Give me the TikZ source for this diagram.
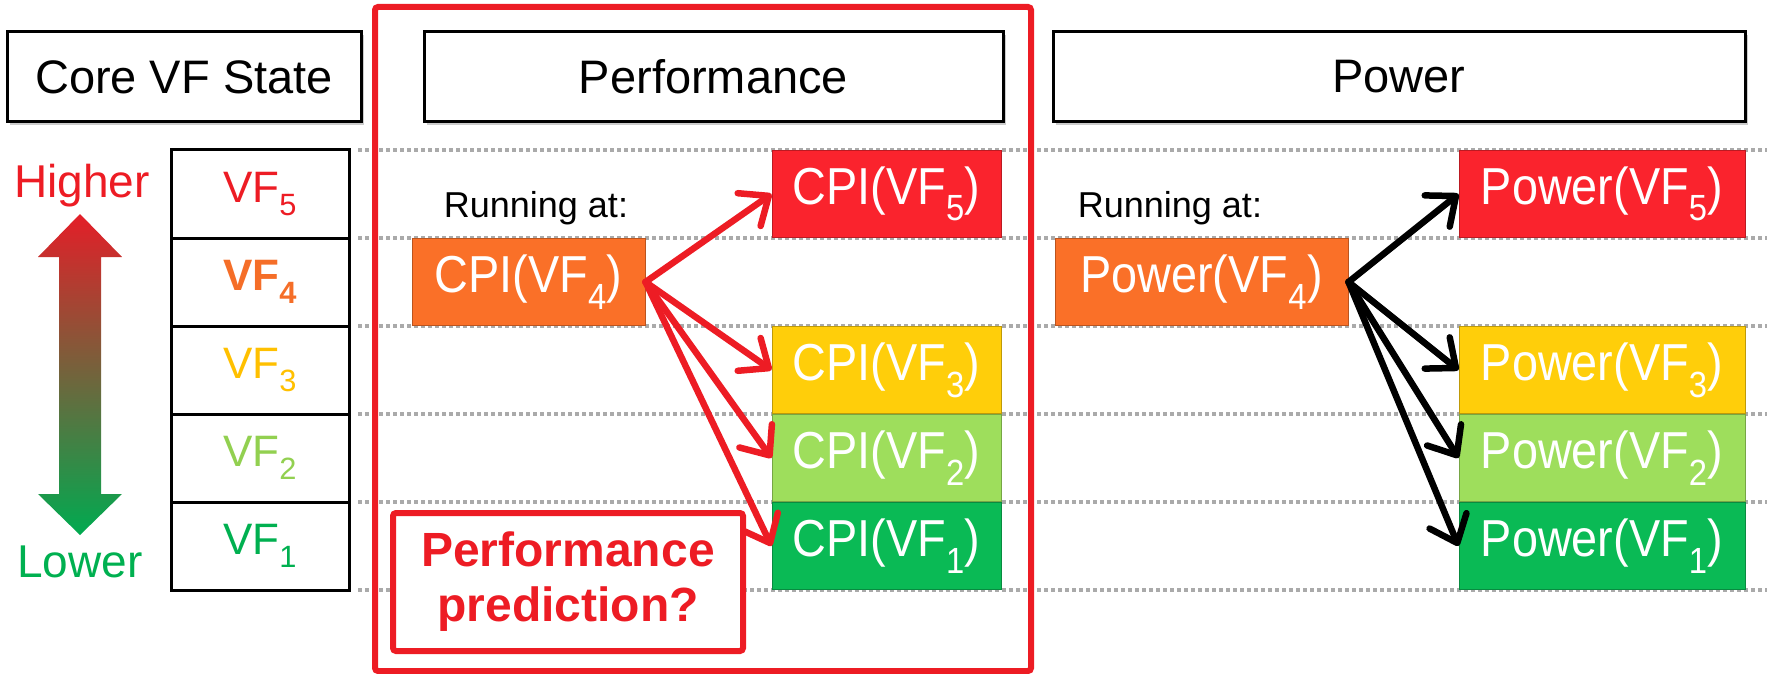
\documentclass[tikz,border=0pt]{standalone}
\usepackage{fontspec}
\setmainfont{Liberation Sans}
\newfontfamily\boxfont[FakeStretch=0.9]{Liberation Sans}
\usetikzlibrary{arrows.meta, positioning, shadows}

\definecolor{vfred}{RGB}{237,28,36}
\definecolor{vforange}{RGB}{245,110,40}
\definecolor{vfyellow}{RGB}{255,192,0}
\definecolor{vflime}{RGB}{146,208,80}
\definecolor{vfgreen}{RGB}{0,176,80}
\definecolor{fillred}{RGB}{250,35,45}
\definecolor{fillorange}{RGB}{250,112,40}
\definecolor{fillyellow}{RGB}{255,206,10}
\definecolor{filllime}{RGB}{158,222,92}
\definecolor{fillgreen}{RGB}{10,186,85}
\definecolor{gridgray}{RGB}{170,170,170}
\definecolor{arrowtop}{RGB}{228,30,40}
\definecolor{arrowbottom}{RGB}{0,170,80}

\newcommand{\vfsub}[1]{VF\textsubscript{#1}}

\begin{document}
\begin{tikzpicture}[x=1pt, y=-1pt,
    titlebox/.style={draw, line width=3pt, fill=white, minimum height=90pt, inner sep=0pt,
      drop shadow={shadow xshift=3pt, shadow yshift=-3pt, fill=black, opacity=0.2},
      font=\fontsize{47}{56}\selectfont},
    vfcell/.style={draw, line width=3pt, fill=white, minimum width=178pt, minimum height=88pt, inner sep=0pt, font=\fontsize{44}{52}\selectfont},
    statebox/.style={draw=#1!75!black, line width=1pt, fill=#1, text=white, minimum height=87pt, inner sep=0pt, font=\boxfont\fontsize{52}{60}\selectfont},
    cpibox/.style={statebox=#1, minimum width=229pt},
    powbox/.style={statebox=#1, minimum width=286pt},
    runlabel/.style={font=\fontsize{36}{42}\selectfont},
    gridline/.style={draw=gridgray, line width=3.5pt, dash pattern=on 3.5pt off 3.5pt},
    cpiarrow/.style={draw=vfred, line width=6.5pt, line cap=round, -{Straight Barb[round, length=24pt, width=40pt]}},
    powarrow/.style={cpiarrow, draw=black}
  ]
  \useasboundingbox (0,0) rectangle (1767,674);

  % dotted row lines
  \foreach \yy in {150,238,326,414,502,590}
    \draw[gridline] (358,\yy) -- (1767,\yy);

  % headers
  \node[titlebox, minimum width=354pt] (core) at (184,77) {Core VF State};
  \node[titlebox, minimum width=579pt] (perf) at (713.5,77) {Performance};
  \node[titlebox, minimum width=692pt] (pow) at (1399,77) {Power};

  % VF table and scale arrow
  \node[vfcell, text=vfred] (v5) at (260,194) {\vfsub{5}};
  \node[vfcell, text=vforange, font=\bfseries\fontsize{44}{52}\selectfont] (v4) at (260,282) {\vfsub{4}};
  \node[vfcell, text=vfyellow] (v3) at (260,370) {\vfsub{3}};
  \node[vfcell, text=vflime] (v2) at (260,458) {\vfsub{2}};
  \node[vfcell, text=vfgreen] (v1) at (260,546) {\vfsub{1}};

  \shade[top color=arrowtop, bottom color=arrowbottom]
    (80,214) -- (122,257) -- (101,257) -- (101,494) -- (122,494) -- (80,535)
    -- (38,494) -- (59,494) -- (59,257) -- (38,257) -- cycle;
  \node[text=vfred, font=\fontsize{46}{54}\selectfont] (hi) at (82,186) {Higher};
  \node[text=vfgreen, font=\fontsize{46}{54}\selectfont] (lo) at (80,562) {Lower};

  % performance side
  \node[runlabel] (runcpi) at (536,208) {Running at:};
  \node[cpibox=fillorange, minimum width=233pt] (cpi4) at (528.5,282) {CPI(\vfsub{4})};
  \node[cpibox=fillred] (cpi5) at (886.5,194) {CPI(\vfsub{5})};
  \node[cpibox=fillyellow] (cpi3) at (886.5,370) {CPI(\vfsub{3})};
  \node[cpibox=filllime] (cpi2) at (886.5,458) {CPI(\vfsub{2})};
  \node[cpibox=fillgreen] (cpi1) at (886.5,546) {CPI(\vfsub{1})};
  \foreach \t in {5,3,2,1}
    \draw[cpiarrow] (cpi4.east) -- (cpi\t.west);

  \draw[vfred, line width=6pt, rounded corners=3pt] (375,7) rectangle (1031,671);
  \node[draw=vfred, line width=6pt, rounded corners=3pt, fill=white, text=vfred,
    font=\bfseries\fontsize{48}{55}\selectfont, align=center,
    minimum width=350pt, minimum height=138pt, inner sep=0pt] (pred) at (568,582) {Performance\\prediction?};

  % power side
  \node[runlabel] (runpow) at (1170,208) {Running at:};
  \node[powbox=fillorange, minimum width=293pt] (pw4) at (1201.5,282) {Power(\vfsub{4})};
  \node[powbox=fillred] (pw5) at (1602,194) {Power(\vfsub{5})};
  \node[powbox=fillyellow] (pw3) at (1602,370) {Power(\vfsub{3})};
  \node[powbox=filllime] (pw2) at (1602,458) {Power(\vfsub{2})};
  \node[powbox=fillgreen] (pw1) at (1602,546) {Power(\vfsub{1})};
  \foreach \t in {5,3,2,1}
    \draw[powarrow] (pw4.east) -- (pw\t.west);
\end{tikzpicture}
\end{document}
